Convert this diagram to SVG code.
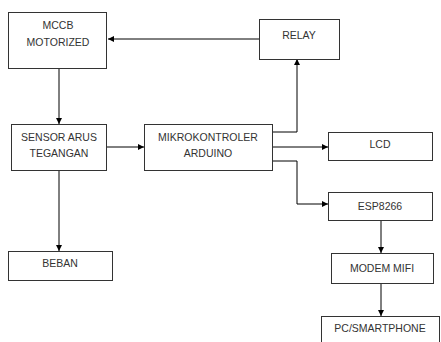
<svg xmlns="http://www.w3.org/2000/svg" width="441" height="342" viewBox="0 0 441 342">
<style>
.box{fill:#fff;stroke:#333;stroke-width:1}
.t{font-family:"Liberation Sans",Arial,sans-serif;font-size:10.5px;fill:#333;text-anchor:middle}
.c{fill:none;stroke:#000;stroke-width:1}
</style>
<defs>
<marker id="ah" markerWidth="6" markerHeight="6" refX="6" refY="3" orient="auto" markerUnits="userSpaceOnUse">
<path d="M0,0 L6,3 L0,6 Z" fill="#000"/>
</marker>
</defs>
<rect width="441" height="342" fill="#fff"/>
<g id="connectors">
<path class="c" d="M297,39 H108" marker-end="url(#ah)"/>
<path class="c" d="M259,39 H297"/>
<path class="c" d="M59,68 V124" marker-end="url(#ah)"/>
<path class="c" d="M107,147 H144" marker-end="url(#ah)"/>
<path class="c" d="M273,132 H297 V59" marker-end="url(#ah)"/>
<path class="c" d="M273,147 H328" marker-end="url(#ah)"/>
<path class="c" d="M273,161 H297 V204 H328" marker-end="url(#ah)"/>
<path class="c" d="M59,170 V251" marker-end="url(#ah)"/>
<path class="c" d="M381,220 V253" marker-end="url(#ah)"/>
<path class="c" d="M381,283 V316" marker-end="url(#ah)"/>
</g>
<g id="mccb"><rect class="box" x="8.5" y="12.5" width="98" height="56"/><text class="t" x="58" y="29">MCCB</text><text class="t" x="58" y="46">MOTORIZED</text></g>
<g id="relay"><rect class="box" x="259.5" y="19.5" width="80" height="40"/><text class="t" x="299" y="39">RELAY</text></g>
<g id="sensor"><rect class="box" x="11.5" y="124.5" width="95" height="46"/><text class="t" x="59" y="141">SENSOR ARUS</text><text class="t" x="59" y="157">TEGANGAN</text></g>
<g id="mikro"><rect class="box" x="144.5" y="124.5" width="128" height="46"/><text class="t" x="208" y="141">MIKROKONTROLER</text><text class="t" x="208" y="157">ARDUINO</text></g>
<g id="lcd"><rect class="box" x="328.5" y="132.5" width="104" height="28"/><text class="t" x="380" y="148">LCD</text></g>
<g id="esp"><rect class="box" x="328.5" y="192.5" width="104" height="28"/><text class="t" x="380" y="210">ESP8266</text></g>
<g id="beban"><rect class="box" x="8.5" y="251.5" width="104" height="29"/><text class="t" x="60" y="267">BEBAN</text></g>
<g id="modem"><rect class="box" x="331.5" y="253.5" width="102" height="30"/><text class="t" x="382" y="272">MODEM MIFI</text></g>
<g id="pc"><rect class="box" x="321.5" y="316.5" width="118" height="40"/><text class="t" x="380" y="332">PC/SMARTPHONE</text></g>
</svg>
